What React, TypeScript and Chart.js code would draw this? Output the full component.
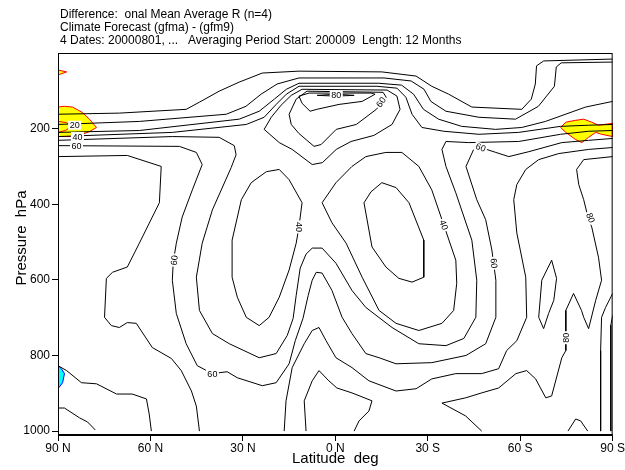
import React, { useEffect, useRef } from "react";
import { Chart, registerables } from "chart.js";
Chart.register(...registerables);

const FONT = "'Liberation Sans', Arial, Helvetica, sans-serif";

const titleLines = [
  "Difference:  onal Mean Average R (n=4)",
  "Climate Forecast (gfma) - (gfm9)",
  "4 Dates: 20000801, ...   Averaging Period Start: 200009  Length: 12 Months",
];
const xAxisTitle = "Latitude  deg";
const yAxisTitle = "Pressure  hPa";

const latTicks = [90, 60, 30, 0, -30, -60, -90];
const pressureTicks = [200, 400, 600, 800, 1000];

// contour lines, points as [latitude, pressure hPa]
const line1 = [[90,162],[70.1,159],[48.4,149],[44.1,130],[37.7,101],[31.2,77],[23.7,53],[11.8,48],[-15.1,50],[-26.2,61],[-31.3,88],[-36.8,109],[-44.3,143],[-60.5,149],[-63.6,122],[-64.9,82],[-65.3,34],[-67.6,21],[-90,16]];
const line2 = [[90,189],[63.6,181],[35.4,162],[29.0,141],[24.1,109],[18.9,82],[11.8,66],[-15.8,66],[-24.6,74],[-28.8,96],[-31.0,128],[-35.9,154],[-46.6,170],[-58.5,175],[-65.9,141],[-71.1,88],[-71.7,37],[-73.3,26],[-90,24]];
const line3 = [[90,210],[63.6,205],[31.2,175],[24.7,154],[19.8,122],[15.9,96],[11.8,80],[-14.1,80],[-21.5,85],[-25.4,109],[-28.6,149],[-33.5,175],[-41.0,194],[-52.0,202],[-60.5,197],[-68.2,181],[-81.2,143],[-90,128]];
const line4 = [[90,221],[52.9,210],[28.9,189],[23.1,170],[19.2,136],[15.9,109],[11.8,88],[-13.5,88],[-20.0,93],[-22.9,117],[-24.9,162],[-28.1,197],[-35.2,207],[-46.6,215],[-59.5,210],[-73.1,194],[-82.2,191],[-90,189]];
const domeOuter = [[23.1,202],[18.2,237],[14.0,255],[7.5,295],[4.2,290],[-0.3,255],[-5.1,234],[-12.5,218],[-18.4,189],[-21.0,149],[-20.0,114],[-16.8,98],[10.8,96],[14.3,112],[17.6,138],[20.8,170],[23.1,202]];
const dome60 = [[15.0,162],[14.3,189],[11.8,213],[6.9,247],[4.6,242],[-0.3,202],[-6.8,189],[-13.3,149],[-16.5,117],[-15.5,104],[9.2,101],[12.7,122],[15.0,162]];
const domeInner = [[11.8,114],[10.8,133],[8.2,154],[6.0,149],[-1.2,136],[-8.7,128],[-12.9,109],[-11.6,106],[8.5,106],[11.8,114]];
const dome80 = [[5.9,112],[-0.3,109],[-6.1,112],[-0.3,114],[5.9,112]];
const line5 = [[90,231],[52.9,221],[37.7,223],[32.8,245],[32.2,269],[33.8,303],[39.9,415],[43.2,503],[45.1,593],[44.1,681],[39.9,742],[34.4,769],[24.7,806],[19.2,795],[15.6,747],[13.7,702],[12.7,641],[11.4,569],[9.5,532],[7.5,516],[4.3,516],[-0.2,556],[-5.4,628],[-9.9,673],[-18.4,726],[-27.1,769],[-35.9,774],[-41.7,755],[-45.6,699],[-45.9,601],[-44.3,495],[-39.1,370],[-35.9,300],[-34.6,255],[-35.9,234],[-43.3,237],[-59.5,234],[-73.1,215],[-82.2,207],[-90,205]];
const line6 = [[90,245],[50.6,247],[45.1,263],[43.2,295],[46.4,362],[49.7,434],[51.6,503],[52.6,553],[52.9,601],[51.6,689],[48.4,769],[44.8,827],[39.9,848],[35.1,843],[31.8,859],[23.7,880],[19.2,872],[15.0,822],[13.0,761],[10.5,702],[8.8,641],[7.5,601],[6.2,580],[4.3,582],[1.1,628],[-2.2,699],[-5.4,742],[-9.9,795],[-14.2,806],[-19.7,822],[-31.3,819],[-42.4,800],[-48.8,769],[-52.1,699],[-52.1,601],[-50.8,521],[-48.8,441],[-45.9,388],[-42.4,300],[-44.9,255],[-47.2,250],[-52.1,263],[-56.3,274],[-62.8,261],[-73.5,237],[-82.2,231],[-90,226]];
const line7 = [[90,274],[67.5,271],[56.5,300],[57.1,396],[63.6,503],[67.5,566],[72.3,580],[74.3,596],[74.9,699],[72.7,721],[70.1,726],[67.5,713],[64.6,715],[59.4,779],[53.2,808],[50.0,840],[46.7,894],[45.1,934],[44.1,1000]];
const bottomLeft1 = [[90,827],[87.2,840],[82.4,872],[77.5,875],[71.0,902],[65.9,902],[61.3,915],[60.4,955],[59.7,1000]];
const bottomLeft2 = [[90,939],[87.9,939],[83.0,965],[80.4,976],[77.9,997]];
const leftEllipse = [[18.2,308],[15.0,335],[10.8,396],[11.8,460],[12.7,503],[15.0,574],[18.2,646],[21.5,699],[24.7,721],[28.9,699],[31.8,646],[33.5,593],[33.5,495],[30.5,388],[27.3,343],[22.4,314],[18.2,308]];
const rightShape = [[4.3,396],[-0.2,343],[-5.4,300],[-9.9,274],[-16.4,263],[-21.6,263],[-27.1,300],[-31.3,362],[-35.2,455],[-39.1,548],[-39.4,609],[-38.4,681],[-34.6,715],[-27.1,734],[-19.7,715],[-14.2,681],[-8.7,593],[-3.5,503],[1.1,449],[4.3,396]];
const rightEllipse = [[-15.1,343],[-19.7,356],[-23.9,396],[-28.7,495],[-28.7,593],[-24.9,606],[-20.6,596],[-16.4,566],[-11.9,513],[-9.3,396],[-11.6,367],[-15.1,343]];
const line70 = [[-90,250],[-82.2,255],[-72.5,266],[-66.0,282],[-61.8,308],[-58.9,348],[-57.9,388],[-58.9,476],[-61.8,593],[-62.1,699],[-58.9,761],[-55.6,787],[-53.0,835],[-47.5,848],[-39.1,848],[-31.3,862],[-26.2,888],[-19.7,894],[-10.9,867],[-5.4,832],[-0.2,806],[3.0,761],[5.3,726],[7.5,734],[10.1,769],[14.0,832],[16.0,920],[16.6,1000]];
const tongue = [[9.5,1000],[10.1,920],[7.5,867],[5.3,840],[2.1,867],[-0.5,886],[-5.4,899],[-11.9,920],[-10.9,947],[-7.7,973],[-6.1,1000]];
const line80 = [[-90,274],[-80.6,282],[-78.3,308],[-79.0,348],[-80.6,388],[-82.2,441],[-83.2,460],[-85.4,540],[-86.4,601],[-84.5,654],[-82.2,729],[-80.6,699],[-79.9,681],[-77.3,636],[-74.8,681],[-74.8,787],[-73.5,806],[-70.2,907],[-68.3,912],[-65.0,862],[-62.1,840],[-58.6,848],[-53.0,886],[-47.5,899],[-42.3,912],[-34.6,926],[-42.3,960],[-47.5,1000]];
const smallLoop = [[-70.2,548],[-71.8,596],[-70.9,654],[-69.2,689],[-67.6,729],[-66.0,699],[-67.0,601],[-70.2,548]];
const bottomBump = [[-75.5,1000],[-78.0,968],[-79.6,973],[-81.9,1000]];
const edgeLine1 = [[-90,636],[-87.7,673],[-86.4,699],[-86.1,787],[-86.1,1000]];
const edgeLine2 = [[-90,694],[-89.4,720],[-89.4,787],[-89.4,1000]];

const contourLines = [line1, line2, line3, line4, domeOuter, dome60, domeInner, dome80, line5, line6, line7, bottomLeft1, bottomLeft2, leftEllipse, rightShape, rightEllipse, line70, tongue, line80, smallLoop, bottomBump, edgeLine1, edgeLine2];

// shaded areas
const yellowLeft = [[90,143],[88,141],[85.3,143],[82.1,157],[79.8,175],[77.5,197],[79.8,208],[82.1,215],[85.3,221],[90,221],[90,143]];
const yellowTop = [[90,45],[87.2,50],[90,58],[90,45]];
const yellowRight = [[-73.1,197],[-74.8,183],[-78.0,178],[-80.6,175],[-83.2,183],[-85.4,191],[-90,186],[-90,221],[-86.4,215],[-84.5,210],[-82.2,223],[-80.0,237],[-78.0,229],[-74.8,210],[-73.1,197]];
const yellowInnerEdge = [[90,181],[87.3,184],[85.6,194],[87.6,205],[90,210]];
const cyanLeft = [[90,827],[88.9,835],[87.9,848],[88.5,872],[90,888],[90,827]];

// contour labels
const labelLat = [84.6, 83.7, 84.0, -0.3, -14.8, 11.8, -35.2, 52.3, 39.9, -47.2, -51.5, -82.8, -74.8];
const labelP = [191, 221, 245, 111, 130, 460, 455, 548, 848, 250, 556, 436, 753];
const labelText = ["20", "40", "60", "80", "60", "40", "40", "60", "60", "60", "60", "80", "80"];
const labelAngle = [0, 0, 0, 0, -55, 90, 70, -85, 0, 20, 85, 70, -90];

const toXY = (pts: number[][]) => pts.map(([x, y]) => ({ x, y }));

const decorPlugin = {
  id: "decor",
  afterDatasetsDraw(chart: any) {
    const { ctx, chartArea, scales } = chart;
    const xs = scales.x, ys = scales.y;
    ctx.save();
    ctx.font = `9px ${FONT}`;
    ctx.textAlign = "center";
    ctx.textBaseline = "middle";
    for (let i = 0; i < labelText.length; i++) {
      const px = xs.getPixelForValue(labelLat[i]);
      const py = ys.getPixelForValue(labelP[i]);
      ctx.save();
      ctx.translate(px, py);
      ctx.rotate((labelAngle[i] * Math.PI) / 180);
      const w = ctx.measureText(labelText[i]).width;
      ctx.fillStyle = "#fff";
      ctx.fillRect(-w / 2 - 1.5, -4.5, w + 3, 9);
      ctx.fillStyle = "#000";
      ctx.fillText(labelText[i], 0, 0.5);
      ctx.restore();
    }
    // frame
    ctx.strokeStyle = "#000";
    ctx.lineWidth = 1;
    ctx.strokeRect(chartArea.left + 0.5, chartArea.top + 0.5, chartArea.right - chartArea.left - 1, chartArea.bottom - chartArea.top - 1);
    ctx.lineWidth = 2;
    ctx.beginPath();
    ctx.moveTo(chartArea.left, chartArea.bottom - 1);
    ctx.lineTo(chartArea.right, chartArea.bottom - 1);
    ctx.stroke();
    ctx.restore();
  },
  afterDraw(chart: any) {
    const { ctx, chartArea } = chart;
    ctx.save();
    ctx.fillStyle = "#000";
    ctx.font = `12px ${FONT}`;
    ctx.textAlign = "left";
    ctx.textBaseline = "middle";
    titleLines.forEach((t, i) => ctx.fillText(t, 60, 15 + i * 13));
    ctx.font = `15px ${FONT}`;
    ctx.textAlign = "center";
    ctx.fillText(xAxisTitle, (chartArea.left + chartArea.right) / 2, 459);
    ctx.translate(22, 238);
    ctx.rotate(-Math.PI / 2);
    ctx.fillText(yAxisTitle, 0, 0);
    ctx.restore();
  },
};

export default function App() {
  const ref = useRef<HTMLCanvasElement>(null);
  useEffect(() => {
    if (!ref.current) return;
    const lineSets = contourLines.map((pts) => ({
      data: toXY(pts),
      showLine: true,
      borderColor: "#000",
      borderWidth: 1,
      pointRadius: 0,
      tension: 0,
      fill: false,
      order: 0,
    }));
    const fillSet = (pts: number[][], bg: string, bd: string) => ({
      data: toXY(pts),
      showLine: true,
      borderColor: bd,
      backgroundColor: bg,
      borderWidth: 1,
      pointRadius: 0,
      tension: 0,
      fill: "shape",
      order: 2,
    });
    const chart = new Chart(ref.current, {
      type: "scatter",
      data: {
        datasets: [
          ...lineSets,
          fillSet(yellowLeft, "#ffff00", "#ff0000"),
          fillSet(yellowTop, "#ffff00", "#ff0000"),
          fillSet(yellowRight, "#ffff00", "#ff0000"),
          fillSet(cyanLeft, "#00ffff", "#0000ff"),
          { data: toXY(yellowInnerEdge), showLine: true, borderColor: "#ff0000", borderWidth: 1, pointRadius: 0, fill: false, order: 1 },
        ] as any,
      },
      options: {
        animation: false,
        responsive: false,
        events: [],
        layout: { padding: { top: 53, right: 11, left: 0, bottom: 0 } },
        plugins: { legend: { display: false }, tooltip: { enabled: false }, title: { display: false } },
        scales: {
          x: {
            type: "linear",
            min: -90,
            max: 90,
            reverse: true,
            afterBuildTicks: (s: any) => { s.ticks = latTicks.map((v) => ({ value: v })); },
            afterFit: (s: any) => { s.height = 34; },
            ticks: {
              autoSkip: false,
              maxRotation: 0,
              padding: 0,
              color: "#000",
              font: { family: FONT, size: 12 },
              callback: (v: any) => (v > 0 ? `${v} N` : v < 0 ? `${-v} S` : "0 N"),
            },
            grid: { display: true, drawOnChartArea: false, drawTicks: true, tickLength: 5, color: "#000" },
            border: { display: false },
          },
          y: {
            type: "linear",
            min: 0,
            max: 1013,
            reverse: true,
            afterBuildTicks: (s: any) => { s.ticks = pressureTicks.map((v) => ({ value: v })); },
            afterFit: (s: any) => { s.width = 58; },
            ticks: { padding: 2, color: "#000", font: { family: FONT, size: 12 }, callback: (v: any) => String(v) },
            grid: { display: true, drawOnChartArea: false, drawTicks: true, tickLength: 6, color: "#000" },
            border: { display: false },
          },
        },
      },
      plugins: [decorPlugin],
    } as any);
    return () => chart.destroy();
  }, []);
  return (
    <div style={{ position: "fixed", left: 0, top: 0, width: 625, height: 470, background: "#fff" }}>
      <canvas ref={ref} width={625} height={470} />
    </div>
  );
}
